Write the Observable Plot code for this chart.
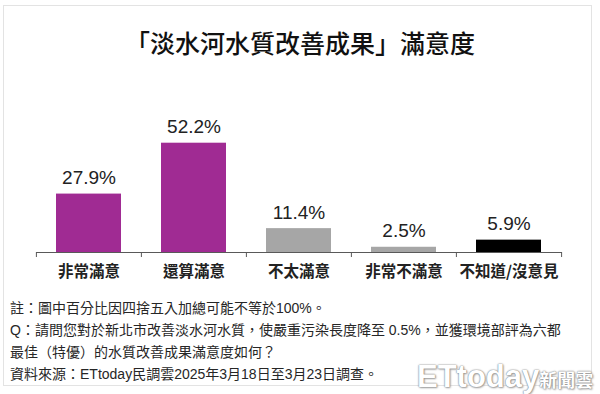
<!DOCTYPE html>
<html>
<head>
<meta charset="utf-8">
<script src="https://cdn.jsdelivr.net/npm/d3@7"></script>
<script src="https://cdn.jsdelivr.net/npm/@observablehq/plot@0.6"></script>
<style>
  body { margin: 0; background: #fff; }
  #wrap { position: relative; width: 600px; height: 394px; overflow: hidden; background: #fff;
          font-family: "Liberation Sans", "Noto Sans CJK TC", sans-serif; }
  #frame { position: absolute; left: 3px; top: 5px; width: 587px; height: 379px; border: 1px solid #e3e3e3; }
  #title { position: absolute; left: 0; top: 27px; width: 600px; text-align: center;
           font-family: "Noto Sans CJK TC", sans-serif; font-weight: 500; font-size: 25px; line-height: 30px; color: #111; }
  #chart { position: absolute; left: 0; top: 0; }
  #notes { position: absolute; left: 10px; top: 297px; font-size: 14px; line-height: 22px; color: #262626; white-space: nowrap; }
  #wm { position: absolute; left: 417px; top: 359px; white-space: nowrap; color: #fff;
        text-shadow: 0 0 1px #777, 0 0 2px #999, 1px 1px 2px #aaa; }
  #wm .et { font-family: "Liberation Sans", sans-serif; font-weight: bold; font-size: 31px; }
  #wm .xw { font-family: "Noto Sans CJK TC", sans-serif; font-weight: bold; font-size: 18px; }
</style>
</head>
<body>
<div id="wrap">
  <div id="frame"></div>
  <div id="title">「淡水河水質改善成果」滿意度</div>
  <div id="chart"></div>
  <div id="notes"></div>
  <div id="wm"><span class="et">ETtoday</span><span class="xw">新聞雲</span></div>
</div>
<script>
const categories = ["非常滿意", "還算滿意", "不太滿意", "非常不滿意", "不知道/沒意見"];
const values = [27.9, 52.2, 11.4, 2.5, 5.9];
const valueLabels = ["27.9%", "52.2%", "11.4%", "2.5%", "5.9%"];
const barColors = ["#a02b93", "#a02b93", "#a6a6a6", "#a6a6a6", "#000000"];
const notes = [
  "註：圖中百分比因四捨五入加總可能不等於100%。",
  "Q：請問您對於新北市改善淡水河水質，使嚴重污染長度降至 0.5%，並獲環境部評為六都",
  "最佳（特優）的水質改善成果滿意度如何？",
  "資料來源：ETtoday民調雲2025年3月18日至3月23日調查。"
];

const data = categories.map((c, i) => ({ c, v: values[i], label: valueLabels[i], color: barColors[i] }));

const W = 600, ML = 36, MR = 38;
const step = (W - ML - MR) / categories.length;
const axisColor = "#595959";

const chart = Plot.plot({
  width: W, height: 290,
  marginLeft: ML, marginRight: MR, marginTop: 0, marginBottom: 38,
  x: { type: "band", domain: categories, paddingInner: 0.38, paddingOuter: 0.19, axis: null },
  y: { domain: [0, d3.max(values)], range: [252, 142.7], axis: null },
  color: { type: "identity" },
  style: { background: "transparent" },
  marks: [
    Plot.barY(data, { x: "c", y: "v", fill: d => d.color }),
    Plot.ruleY([0], { stroke: axisColor, strokeWidth: 1 }),
    Plot.ruleX(categories, { x: d => d, dx: -step / 2, y1: 0, y2: -2.4, stroke: axisColor }),
    Plot.ruleX([categories[categories.length - 1]], { x: d => d, dx: step / 2, y1: 0, y2: -2.4, stroke: axisColor }),
    Plot.text(data, { x: "c", y: "v", text: "label", lineAnchor: "bottom", dy: -10,
      fontSize: 19, fill: "#222", fontFamily: "Liberation Sans, sans-serif" }),
    Plot.text(data, { x: "c", y: () => 0, text: "c", dy: 20, lineAnchor: "middle",
      fontSize: 15.5, fontWeight: "bold", fill: "#222", fontFamily: "Noto Sans CJK TC, sans-serif" })
  ]
});
document.getElementById("chart").appendChild(chart);
document.getElementById("notes").innerHTML = notes.map(s => `<div>${s}</div>`).join("");
</script>
</body>
</html>
